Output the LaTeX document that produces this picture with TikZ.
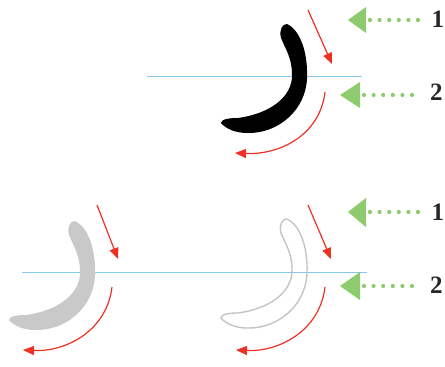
\documentclass[tikz,border=0pt]{standalone}
\usepackage{fontspec}
\setmainfont{Liberation Serif}
\usetikzlibrary{arrows.meta}
\definecolor{redarr}{HTML}{EE3124}
\definecolor{greenarr}{HTML}{8DCB6E}
\definecolor{blueline}{HTML}{86C8EC}
\definecolor{grayfill}{HTML}{C9C9C9}
\definecolor{grayline}{HTML}{C4C4C4}
\newcommand\rehoutline{(287,24) .. controls (300,30) and (308,52) .. (307,78)
  .. controls (306,110) and (278,134) .. (247,133)
  .. controls (236,133) and (226,129) .. (221,123)
  .. controls (221,119) and (230,118) .. (238,118)
  .. controls (268,114) and (293,98) .. (292,74)
  .. controls (292,58) and (285,48) .. (281,38)
  .. controls (279,30) and (282,24) .. (287,24) -- cycle}
\tikzset{
  redarrow/.style={draw=redarr, line width=1.2pt, -{Triangle[length=11pt,width=9pt]}},
  bluerule/.style={draw=blueline, line width=0.9pt},
  greendots/.style={draw=greenarr, line width=4.2pt, line cap=round, dash pattern=on 0pt off 9.6pt},
  greenhead/.style={fill=greenarr},
  digit/.style={font=\fontsize{25}{25}\selectfont\bfseries, text=black!85, inner sep=0pt, anchor=base west}
}
\begin{document}
\begin{tikzpicture}[x=1pt,y=-1pt]
\useasboundingbox (0,0) rectangle (445,367);
\clip (0,0) rectangle (445,367);
% ---- top row ----
\draw[bluerule] (147,76) coordinate (tb1) -- (362,76) coordinate (tb2);
\fill[black] \rehoutline;
\coordinate (ts1) at (308,10); \coordinate (te1) at (332,64);
\draw[redarrow] (ts1) -- (te1);
\coordinate (tc1) at (325,92); \coordinate (tc2) at (235,153);
\draw[redarrow] (tc1) .. controls (320,135) and (280,155) .. (tc2);
% green arrows top
\fill[greenhead] (348,20) -- (366,7) -- (366,33) -- cycle;
\draw[greendots] (370,20) -- (424,20);
\node[digit] (n1a) at (431.5,27) {1};
\fill[greenhead] (340,95) -- (360,82) -- (360,108) -- cycle;
\draw[greendots] (364,95) -- (413,95);
\node[digit] (n2a) at (430,100) {2};
% ---- bottom row ----
\draw[bluerule] (22,272) coordinate (bb1) -- (367,272) coordinate (bb2);
\begin{scope}[shift={(-212,197)}]
  \fill[grayfill] \rehoutline;
\end{scope}
\begin{scope}[shift={(0,195)}]
  \draw[grayline, line width=1.4pt] \rehoutline;
\end{scope}
\coordinate (ls1) at (97,205); \coordinate (le1) at (118,259);
\draw[redarrow] (ls1) -- (le1);
\coordinate (lc1) at (112,287); \coordinate (lc2) at (23,350);
\draw[redarrow] (lc1) .. controls (107,330) and (67,352) .. (lc2);
\coordinate (rs1) at (308,205); \coordinate (re1) at (331,259);
\draw[redarrow] (rs1) -- (re1);
\coordinate (rc1) at (325,287); \coordinate (rc2) at (236,350);
\draw[redarrow] (rc1) .. controls (320,330) and (280,352) .. (rc2);
% green arrows bottom
\fill[greenhead] (348,212) -- (366,198) -- (366,227) -- cycle;
\draw[greendots] (370,212) -- (424,212);
\node[digit] (n1b) at (431.5,220) {1};
\fill[greenhead] (340,286) -- (360,272) -- (360,300) -- cycle;
\draw[greendots] (364,286) -- (413,286);
\node[digit] (n2b) at (430,293) {2};
\end{tikzpicture}
\end{document}
